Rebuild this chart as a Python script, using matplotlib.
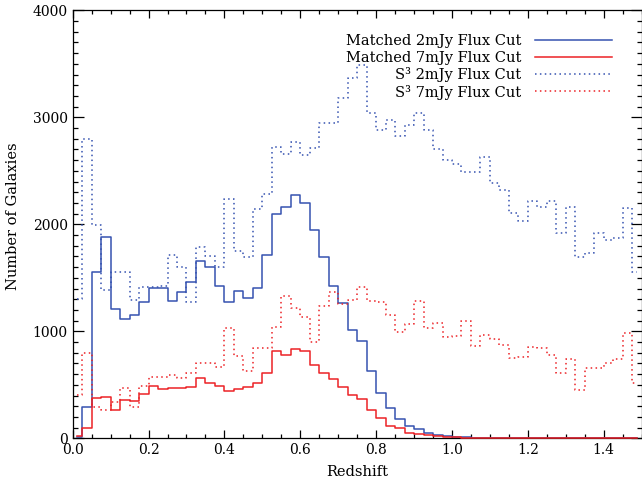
import numpy as np
import matplotlib
matplotlib.use("Agg")
import matplotlib.pyplot as plt
from matplotlib.ticker import MultipleLocator

plt.rcParams['font.family'] = 'DejaVu Serif'

# bin centres, width 0.025 in redshift
redshift = np.round(np.arange(0.0125, 1.5, 0.025), 4)

matched_2mjy = [10, 295, 1555, 1885, 1210, 1115, 1150, 1275, 1405, 1405,
                1285, 1370, 1460, 1655, 1605, 1425, 1275, 1375, 1310, 1405,
                1715, 2095, 2165, 2275, 2200, 1945, 1695, 1425, 1265, 1010,
                910, 630, 420, 285, 185, 115, 85, 52, 31, 21,
                15, 12, 5, 3, 0, 0, 0, 0, 0, 0,
                0, 0, 0, 0, 0, 0, 0, 0, 0, 0]

matched_7mjy = [21, 93, 375, 390, 265, 358, 350, 410, 490, 460,
                470, 470, 477, 565, 520, 490, 445, 458, 477, 520,
                612, 820, 778, 835, 820, 685, 612, 555, 477, 405,
                365, 265, 187, 115, 93, 52, 40, 31, 21, 12,
                8, 6, 4, 3, 2, 2, 1, 1, 0, 0,
                0, 0, 0, 0, 0, 0, 0, 0, 0, 0]

s3_2mjy = [1300, 2795, 1995, 1385, 1550, 1550, 1295, 1415, 1410, 1425,
           1715, 1605, 1275, 1790, 1705, 1605, 2235, 1755, 1690, 2140,
           2280, 2725, 2655, 2765, 2650, 2710, 2950, 2950, 3180, 3365,
           3490, 3045, 2880, 2975, 2825, 2930, 3045, 2880, 2700, 2605,
           2565, 2485, 2485, 2630, 2385, 2325, 2110, 2035, 2220, 2165,
           2220, 1920, 2165, 1690, 1730, 1920, 1855, 1875, 2155, 1550]

s3_7mjy = [405, 800, 290, 265, 342, 467, 296, 490, 570, 576,
           592, 561, 613, 707, 701, 664, 1028, 769, 632, 847,
           840, 1045, 1333, 1215, 1137, 903, 1239, 1364, 1252, 1292,
           1411, 1283, 1271, 1152, 996, 1065, 1283, 1028, 1075, 944,
           956, 1099, 866, 962, 925, 872, 753, 763, 856, 841,
           778, 613, 738, 451, 654, 657, 701, 741, 987, 520]

labels = ["Matched 2mJy Flux Cut", "Matched 7mJy Flux Cut",
          "S\u00b3 2mJy Flux Cut", "S\u00b3 7mJy Flux Cut"]

blue = '#3552b0'
red = '#ec2226'

fig = plt.figure(figsize=(6.42, 4.83), dpi=100)
ax = fig.add_axes([0.1132, 0.0925, 0.8863, 0.8861])

l1, = ax.step(redshift, matched_2mjy, where='mid', color=blue, lw=1.1)
l3, = ax.step(redshift, s3_2mjy, where='mid', color=blue, lw=1.1, ls=(0, (1, 2.2)))
l4, = ax.step(redshift, s3_7mjy, where='mid', color=red, lw=1.1, ls=(0, (1, 2.2)))
l2, = ax.step(redshift, matched_7mjy, where='mid', color=red, lw=1.1, clip_on=False, zorder=3)

ax.set_xlim(0, 1.5)
ax.set_ylim(0, 4000)
ax.xaxis.set_major_locator(MultipleLocator(0.2))
ax.xaxis.set_minor_locator(MultipleLocator(0.05))
ax.yaxis.set_major_locator(MultipleLocator(1000))
ax.yaxis.set_minor_locator(MultipleLocator(100))
ax.tick_params(which='both', direction='in', top=True, right=True, labelsize=10, width=0.9)
ax.tick_params(axis='x', which='major', length=5.8)
ax.tick_params(axis='x', which='minor', length=3)
ax.tick_params(axis='y', which='major', length=8)
ax.tick_params(axis='y', which='minor', length=3.6)
for s in ax.spines.values():
    s.set_linewidth(0.9)

ax.set_xlabel('Redshift', fontsize=10.5)
ax.set_ylabel('Number of Galaxies', fontsize=10.5)
ax.yaxis.set_label_coords(-0.093, 0.52)
ax.xaxis.set_label_coords(0.5, -0.062)

ax.legend([l1, l2, l3, l4], labels, loc='upper right', frameon=False, markerfirst=False,
          fontsize=10.5, handlelength=5.3, handletextpad=0.9, labelspacing=0.17,
          bbox_to_anchor=(0.958, 0.958), borderaxespad=0)

fig.savefig('out.png', dpi=100)
